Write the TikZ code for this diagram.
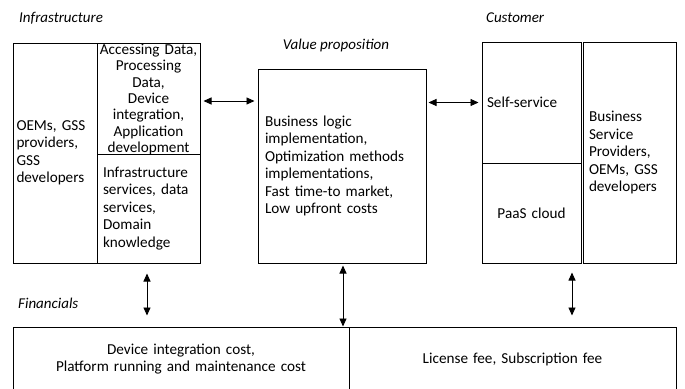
\documentclass[tikz,border=0pt]{standalone}
\usepackage{fontspec}
\setmainfont{Carlito}
\usetikzlibrary{arrows.meta,calc}
\begin{document}
\begin{tikzpicture}[x=1pt,y=-1pt,
  cell/.style={draw, line width=1pt, inner sep=0pt, font=\fontsize{15.2}{17.5}\selectfont},
  txt/.style={inner sep=0pt, font=\fontsize{15.2}{16.3}\selectfont},
  lab/.style={font=\fontsize{15}{17.5}\selectfont\itshape, inner sep=0pt},
  arr/.style={line width=0.9pt, {Triangle[length=8pt,width=7pt]}-{Triangle[length=8pt,width=7pt]}}]
\useasboundingbox (0,0) rectangle (685,388);
% Infrastructure
\node[cell, minimum width=84pt, minimum height=220pt, text width=77pt, align=left] (lo) at (55,153)
  {OEMs, GSS\\providers,\\GSS\\developers};
\node[cell, minimum width=103pt, minimum height=111pt] (lt) at (148.5,98.5) {};
\node[txt, text width=101pt, align=center] (ltt) at ([yshift=-1pt]lt.center)
  {Accessing Data,\\Processing\\Data,\\Device\\integration,\\Application\\development};
\node[cell, minimum width=103pt, minimum height=109pt, text width=91pt, align=left] (lb) at (148.5,208.5)
  {Infrastructure\\services, data\\services,\\Domain\\knowledge};
% Value proposition
\node[cell, minimum width=168pt, minimum height=194pt, text width=154pt, align=left] (mid) at (342,166)
  {Business logic\\implementation,\\Optimization methods\\implementations,\\Fast time-to market,\\Low upfront costs};
% Customer
\node[cell, minimum width=99pt, minimum height=121pt, text width=89pt, align=left] (ss) at (531.5,102.5)
  {Self-service};
\node[cell, minimum width=99pt, minimum height=100pt, text width=89pt, align=center] (paas) at (531.5,213)
  {PaaS cloud};
\node[cell, minimum width=93pt, minimum height=221pt, text width=81pt, align=left] (bsp) at (629.5,152.5)
  {Business\\Service\\Providers,\\OEMs, GSS\\developers};
% Financials
\node[cell, minimum width=336pt, minimum height=64pt, text width=320pt, align=center] (fl) at (181,359)
  {Device integration cost,\\Platform running and maintenance cost};
\node[cell, minimum width=327pt, minimum height=64pt, text width=311pt, align=center] (fr) at (512.5,359)
  {License fee, Subscription fee};
% labels
\node[lab, anchor=west] (linf) at (19,18) {Infrastructure};
\node[lab] (lval) at (336,45) {Value proposition};
\node[lab, anchor=west] (lcus) at (486,18) {Customer};
\node[lab, anchor=west] (lfin) at (18,303) {Financials};
% arrows
\draw[arr, shorten <=3pt, shorten >=3pt] ([yshift=-2.5pt]lt.east) -- ([yshift=-2.5pt]lt.east -| mid.west);
\draw[arr, shorten <=2pt, shorten >=3pt] (mid.east |- ss.west) -- (ss.west);
\draw[arr, shorten <=10pt, shorten >=11pt] ([xshift=-1.5pt]lb.south) -- ([xshift=-1.5pt]lb.south |- fl.north);
\draw[arr, shorten <=2pt] ([xshift=1pt]mid.south) -- ([xshift=1pt]mid.south |- fl.north);
\draw[arr, shorten <=9pt, shorten >=11pt] ([xshift=40.5pt]paas.south) -- ([xshift=40.5pt]paas.south |- fr.north);
\end{tikzpicture}
\end{document}
